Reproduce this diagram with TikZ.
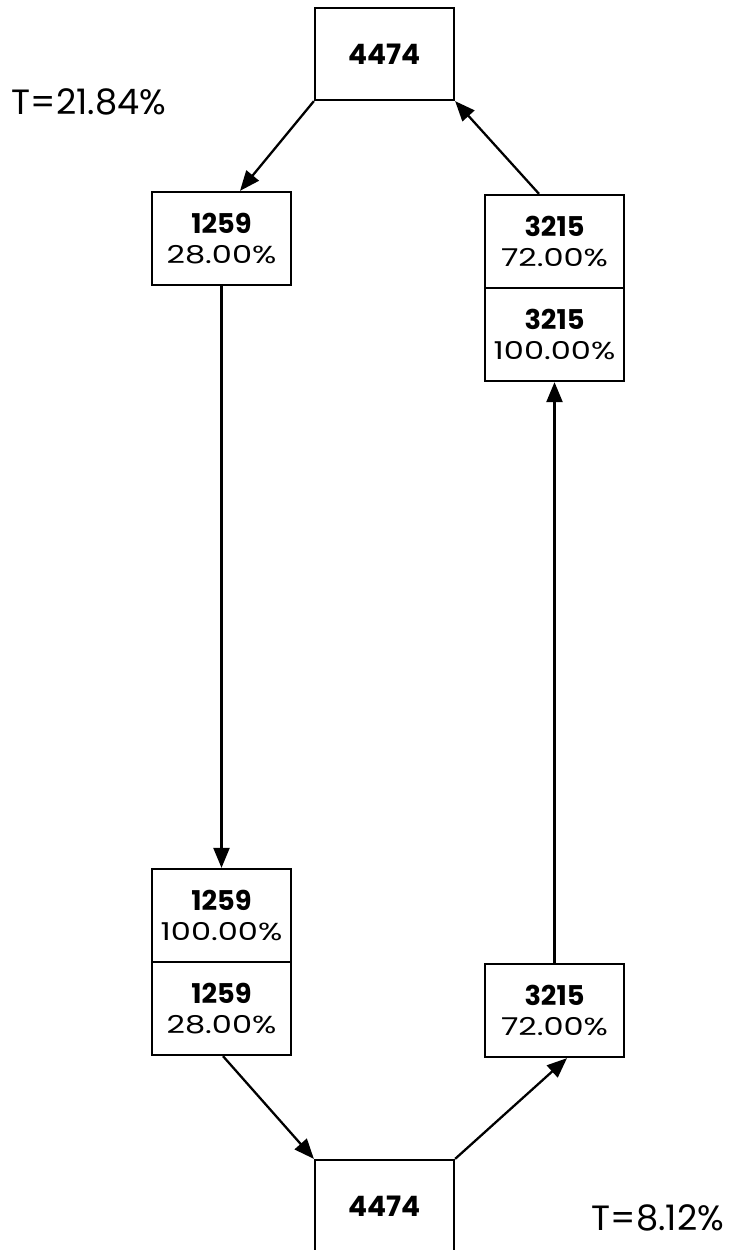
\documentclass[tikz,border=0pt]{standalone}
\usepackage{fontspec}
\setmainfont{Poppins}
\newfontfamily\widefont[FakeStretch=1.3]{Poppins}
\newcommand{\num}[1]{{\normalfont\fontsize{15.5}{17}\selectfont\bfseries #1}}
\usetikzlibrary{arrows.meta}
\begin{document}
\begin{tikzpicture}[x=0.02cm, y=-0.02cm,
  box/.style={draw, line width=1.3pt, minimum width=2.78cm, minimum height=1.86cm,
    align=center, inner sep=0pt, font=\widefont\fontsize{14}{17}\selectfont},
  total/.style={draw, line width=1.3pt, minimum width=2.78cm, minimum height=1.84cm,
    inner sep=0pt, font=\bfseries\fontsize{16}{17}\selectfont},
  flow/.style={-{Triangle[length=0.4cm, width=0.32cm]}, line width=1.3pt},
  tlabel/.style={font=\fontsize{20}{22}\selectfont}]
  \useasboundingbox (0,0) rectangle (729,1250);

  % Top cycle
  \node[total] (top) at (384.5,54) {4474};
  \node[box] (L1) at (221.5,238.5) {\num{1259}\\28.00\%};
  \node[box] (R1a) at (554.5,241.5) {\num{3215}\\72.00\%};
  \node[box] (R1b) at (554.5,334.5) {\num{3215}\\100.00\%};

  % Bottom cycle
  \node[box] (L2a) at (221.5,915.5) {\num{1259}\\100.00\%};
  \node[box] (L2b) at (221.5,1008.5) {\num{1259}\\28.00\%};
  \node[box] (R2) at (554.5,1010.5) {\num{3215}\\72.00\%};
  \node[total] (bot) at (384.5,1206) {4474};

  % Totals
  \node[tlabel] (t1) at (89,102) {T=21.84\%};
  \node[tlabel] (t2) at (658,1218) {T=8.12\%};

  % Connections
  \draw[flow] (top.south west) -- ([xshift=0.37cm]L1.north);
  \draw[flow] (L1.south) -- (L2a.north);
  \draw[flow] ([xshift=0.03cm]L2b.south) -- (bot.north west);
  \draw[flow] (bot.north east) -- ([xshift=0.25cm]R2.south);
  \draw[flow] (R2.north) -- (R1b.south);
  \draw[flow] ([xshift=-0.31cm]R1a.north) -- (top.south east);
\end{tikzpicture}
\end{document}
